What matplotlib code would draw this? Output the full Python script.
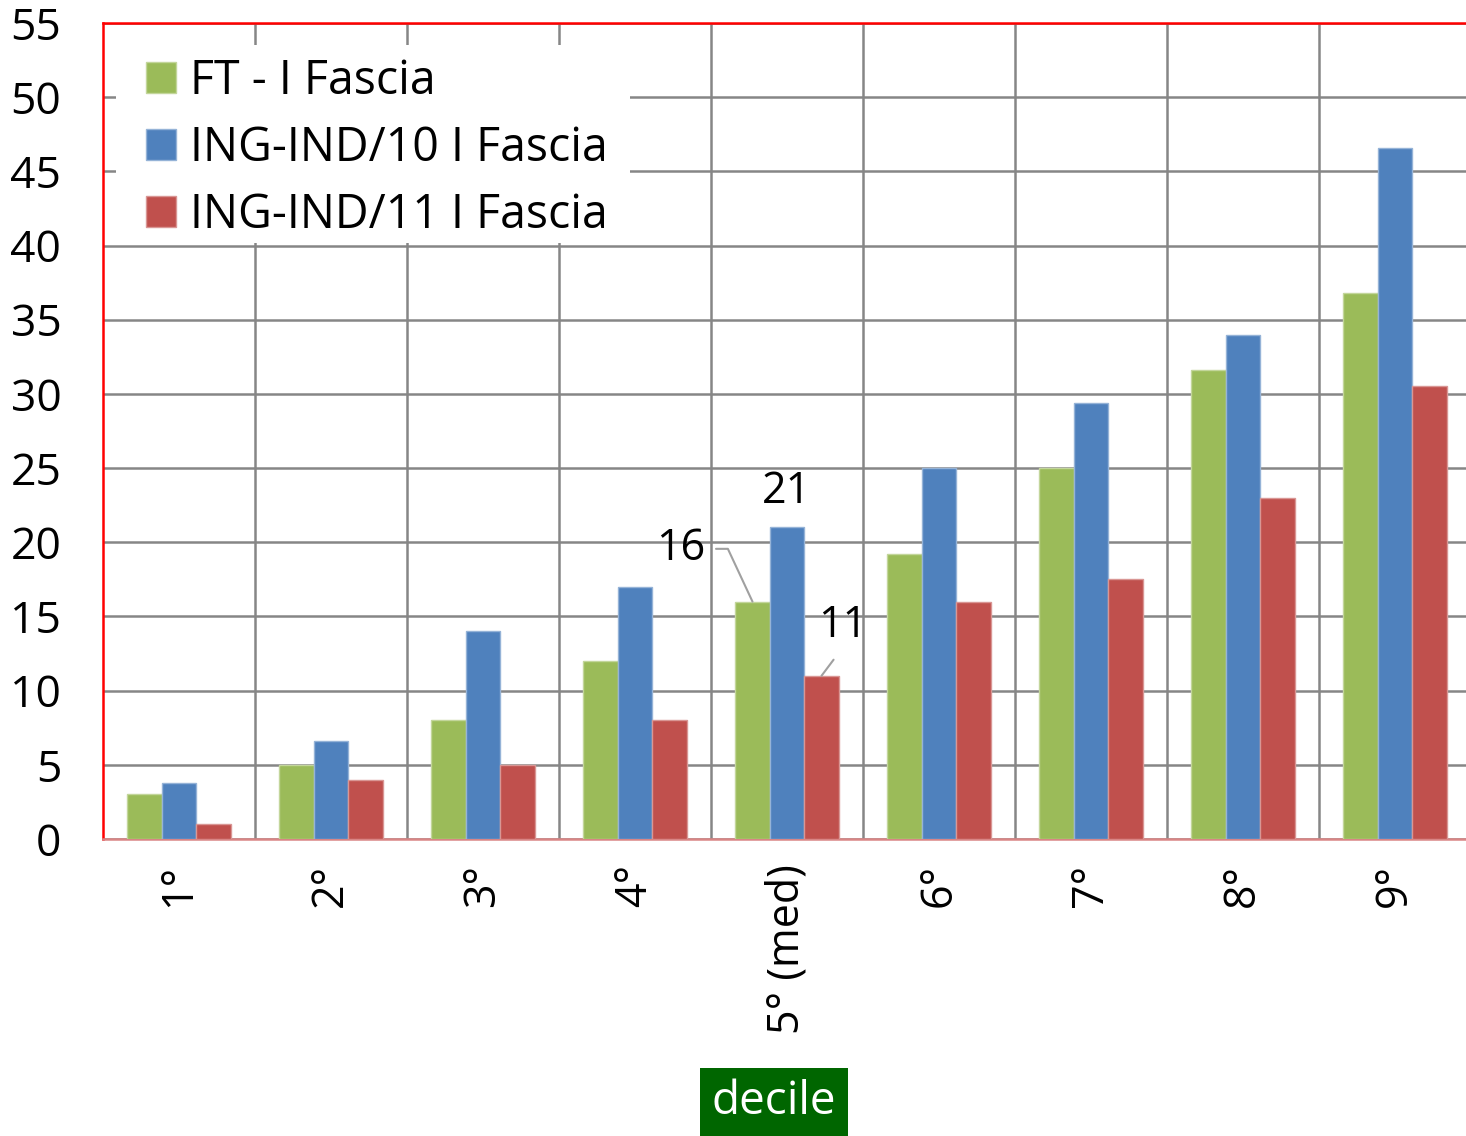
import numpy as np
import matplotlib
matplotlib.use("Agg")
from matplotlib import pyplot as plt
from matplotlib.patches import Rectangle

plt.rcParams['font.family'] = ['Open Sans', 'DejaVu Sans']

# Data
deciles = ['1°', '2°', '3°', '4°', '5° (med)', '6°', '7°', '8°', '9°']
ft = [3, 5, 8, 12, 16, 19.2, 25, 31.6, 36.8]
ing10 = [3.8, 6.6, 14, 17, 21, 25, 29.4, 34, 46.6]
ing11 = [1, 4, 5, 8, 11, 16, 17.5, 23, 30.5]
series_names = ['FT - I Fascia', 'ING-IND/10 I Fascia', 'ING-IND/11 I Fascia']
colors = ['#9BBB59', '#4F81BD', '#C0504D']
edges = ['#C3D69B', '#95B3D7', '#D99694']

W, H = 1466, 1136
fig = plt.figure(figsize=(W / 100, H / 100), dpi=100)
ax = fig.add_axes([103 / W, 1 - 839 / H, 1368 / W, 816 / H])

x = np.arange(len(deciles))
w = 0.227
for k, vals in enumerate([ft, ing10, ing11]):
    ax.bar(x + (k - 1) * w, vals, width=w, color=colors[k], edgecolor=edges[k],
           linewidth=1, label=series_names[k], zorder=3)

ax.set_xlim(-0.5, len(deciles) - 0.5)
ax.set_ylim(0, 55)
ax.set_yticks(np.arange(0, 56, 5))
ax.set_xticks(x)
ax.set_xticklabels(deciles, rotation=90, fontsize=31)
ax.set_xticks(np.arange(0.5, len(deciles), 1), minor=True)
ax.tick_params(axis='y', labelsize=32, length=0, pad=30)
ax.tick_params(axis='x', which='both', length=0, pad=18)

ax.grid(axis='y', color='#868686', lw=1.8, zorder=1)
ax.grid(axis='x', which='minor', color='#868686', lw=1.8, zorder=1)
ax.set_axisbelow(True)

for s in ['left', 'top']:
    ax.spines[s].set_color('#FF0000')
    ax.spines[s].set_linewidth(1.8)
ax.spines['bottom'].set_color('#D98585')
ax.spines['bottom'].set_linewidth(1.8)
ax.spines['right'].set_visible(False)

# labels on the median group
ax.annotate('16', xy=(4 - w, ft[4]), xytext=(-52, 38), textcoords='offset points',
            fontsize=31, ha='center', va='center',
            arrowprops=dict(arrowstyle='-', color='#A0A0A0', lw=1.5, relpos=(1, 0.5),
                            shrinkA=6, shrinkB=0,
                            connectionstyle='angle,angleA=0,angleB=115,rad=0'))
ax.annotate('21', xy=(4, ing10[4]), xytext=(0, 26), textcoords='offset points',
            fontsize=31, ha='center', va='center')
ax.annotate('11', xy=(4 + w, ing11[4]), xytext=(15, 36), textcoords='offset points',
            fontsize=31, ha='center', va='center',
            arrowprops=dict(arrowstyle='-', color='#A0A0A0', lw=1.5, relpos=(0.5, 0),
                            shrinkA=8, shrinkB=0))

# white patch behind the legend
ax.add_patch(Rectangle((116 / W, 1 - 243 / H), (630 - 116) / W, (243 - 45) / H,
                       transform=fig.transFigure, facecolor='white',
                       edgecolor='none', zorder=2, clip_on=False))
leg = ax.legend(loc='upper left', bbox_to_anchor=(146 / W, 1 - 57 / H),
                bbox_transform=fig.transFigure, fontsize=33.5, frameon=False,
                borderaxespad=0, borderpad=0,
                handlelength=0.65, handleheight=0.65, handletextpad=0.3,
                labelspacing=0.42)

fig.text(774 / W, 1 - 1102 / H, 'decile', fontsize=33, color='white',
         ha='center', va='center',
         bbox=dict(boxstyle='square,pad=0.25', facecolor='#006600', edgecolor='none'))

fig.savefig('out.png', dpi=100)
